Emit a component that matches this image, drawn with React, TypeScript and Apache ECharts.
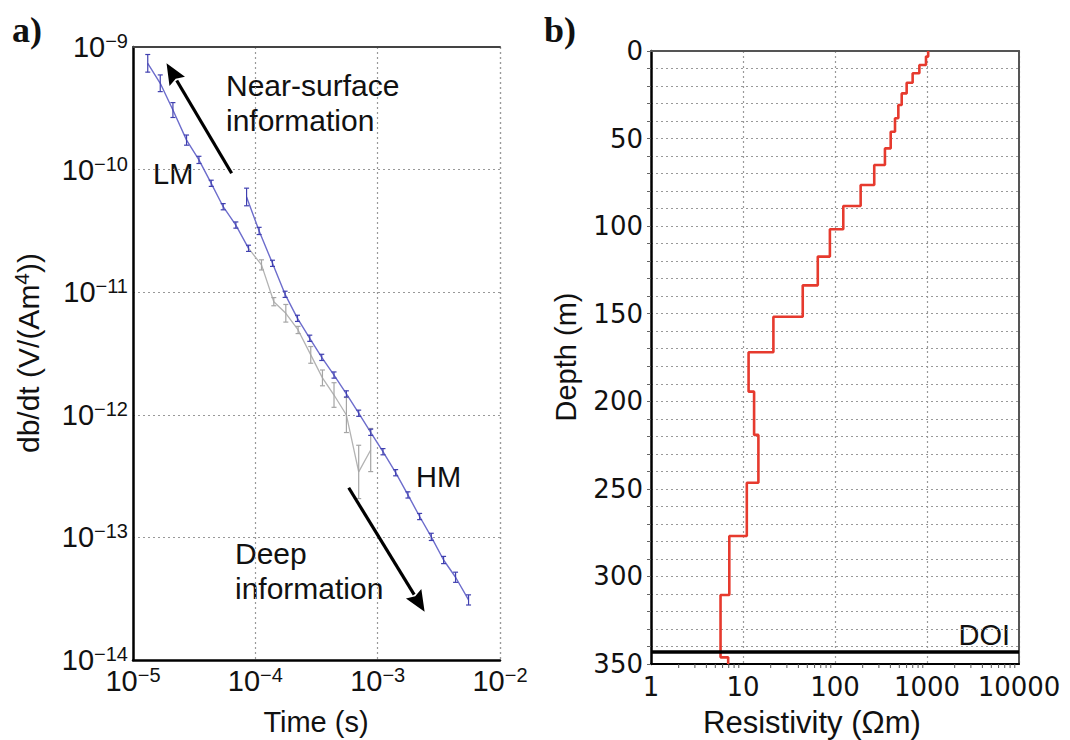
import React, { useEffect, useRef } from "react";
import * as echarts from "echarts";

// ---- Panel a) : dB/dt decay curves ----
const lmTime = [1.32e-5, 1.67e-5, 2.12e-5, 2.74e-5, 3.46e-5, 4.36e-5, 5.46e-5, 6.93e-5, 8.8e-5];
const lmValue = [7.36e-10, 5.06e-10, 3.06e-10, 1.74e-10, 1.2e-10, 7.73e-11, 4.98e-11, 3.53e-11, 2.28e-11];
const lmError = [0.18, 0.17, 0.15, 0.1, 0.07, 0.06, 0.06, 0.06, 0.06];

const hmTime = [8.48e-5, 1.074e-4, 1.381e-4, 1.751e-4, 2.211e-4, 2.786e-4, 3.491e-4, 4.397e-4, 5.553e-4, 6.998e-4, 8.77e-4, 1.105e-3, 1.403e-3, 1.768e-3, 2.203e-3, 2.744e-3, 3.458e-3, 4.333e-3, 5.533e-3];
const hmValue = [5.98e-11, 3.16e-11, 1.72e-11, 9.61e-12, 6.12e-12, 4.21e-12, 2.94e-12, 2.11e-12, 1.48e-12, 1.03e-12, 7.2e-13, 5.0e-13, 3.37e-13, 2.22e-13, 1.48e-13, 1.01e-13, 6.54e-14, 4.73e-14, 3.09e-14];
const hmError = [0.18, 0.07, 0.06, 0.06, 0.06, 0.06, 0.06, 0.06, 0.06, 0.06, 0.06, 0.06, 0.06, 0.06, 0.06, 0.07, 0.07, 0.1, 0.1];

const obsTime = [8.8e-5, 1.123e-4, 1.416e-4, 1.775e-4, 2.236e-4, 2.838e-4, 3.537e-4, 4.397e-4, 5.553e-4, 6.998e-4, 8.77e-4];
const obsValue = [2.28e-11, 1.67e-11, 8.37e-12, 6.73e-12, 4.92e-12, 3.08e-12, 2.0e-12, 1.45e-12, 9.96e-13, 3.42e-13, 5.16e-13];
const obsError = [0, 0.1, 0.08, 0.18, 0.07, 0.17, 0.16, 0.26, 0.39, 0.65, 0.5];

// arrows: [tailTime, tailValue, headTime, headValue]
const arrowNear = [6.4e-5, 9.33e-11, 1.88e-5, 7.36e-10];
const arrowDeep = [5.8e-4, 2.54e-13, 2.42e-3, 2.48e-14];

// ---- Panel b) : layered resistivity model ----
const layerTops = [0, 3.2, 8.0, 12.7, 18.1, 24.2, 30.8, 38.4, 46.1, 55.6, 65.1, 76.5, 88.5, 101.8, 117.4, 133.8, 151.7, 172.0, 194.5, 219.2, 246.5, 276.9, 310.6, 346.2];
const layerRes = [1030, 975, 826, 698, 601, 531, 488, 449, 403, 349, 267, 190, 123, 88, 65, 44.6, 21.4, 11.5, 13.2, 14.7, 11.0, 7.1, 5.7, 6.9];
const profileBottom = 350;
const doiDepth = 343;
const resDecades = [1, 10, 100, 1000];
const resMinorMult = [2, 3, 4, 5, 6, 7, 8, 9];

const FONT = "Liberation Sans";
const FONT_B = "DejaVu Sans";
const BLUE = "#6d6dcc";
const BLUE_BAR = "#4040b0";
const GRAY = "#b3b3b3";
const RED = "#e63a2e";
const dotted = { type: [2, 3] as any, color: "#999", width: 1.2 };

function supLabel(v: number) {
  const e = Math.round(Math.log10(v));
  return "10{s|" + (e < 0 ? "\u2212" : "") + Math.abs(e) + "}";
}

const supRich = {
  s: { fontSize: 20, lineHeight: 18, verticalAlign: "top", fontFamily: FONT, color: "#111" },
};

function errorBarItem(color: string) {
  return (params: any, api: any) => {
    const t = api.value(0);
    const v = api.value(1);
    const e = api.value(2);
    if (!e) return null;
    const hi = api.coord([t, v * (1 + e)]);
    const lo = api.coord([t, v / (1 + e)]);
    const w = 2.5;
    const st = { stroke: color, lineWidth: 1.2 };
    return {
      type: "group",
      children: [
        { type: "line", shape: { x1: hi[0], y1: hi[1], x2: lo[0], y2: lo[1] }, style: st },
        { type: "line", shape: { x1: hi[0] - w, y1: hi[1], x2: hi[0] + w, y2: hi[1] }, style: st },
        { type: "line", shape: { x1: lo[0] - w, y1: lo[1], x2: lo[0] + w, y2: lo[1] }, style: st },
      ],
    };
  };
}

function arrowItem(params: any, api: any) {
  const p0 = api.coord([api.value(0), api.value(1)]);
  const p1 = api.coord([api.value(2), api.value(3)]);
  const dx = p1[0] - p0[0];
  const dy = p1[1] - p0[1];
  const len = Math.sqrt(dx * dx + dy * dy);
  const ux = dx / len;
  const uy = dy / len;
  const L = 24;
  const W = 9;
  const bx = p1[0] - ux * L;
  const by = p1[1] - uy * L;
  return {
    type: "group",
    children: [
      { type: "line", shape: { x1: p0[0], y1: p0[1], x2: bx + ux * 4, y2: by + uy * 4 }, style: { stroke: "#000", lineWidth: 3.2 } },
      {
        type: "polygon",
        shape: { points: [[p1[0], p1[1]], [bx - uy * W + ux * 3, by + ux * W + uy * 3], [bx + ux * 6, by + uy * 6], [bx + uy * W + ux * 3, by - ux * W + uy * 3]] },
        style: { fill: "#000" },
      },
    ],
  };
}

function minorTickItem(params: any, api: any) {
  const p = api.coord([api.value(0), profileBottom]);
  return { type: "line", shape: { x1: p[0], y1: p[1], x2: p[0], y2: p[1] + 4 }, style: { stroke: "#555", lineWidth: 1 } };
}

export default function App() {
  const ref = useRef<HTMLDivElement>(null);
  useEffect(() => {
    if (!ref.current) return;
    const chart = echarts.init(ref.current, null, { renderer: "svg" });

    const profile: number[][] = [];
    layerRes.forEach((r, i) => {
      const top = layerTops[i];
      const bottom = i + 1 < layerTops.length ? layerTops[i + 1] : profileBottom;
      profile.push([r, top], [r, bottom]);
    });
    const minorTicks: number[][] = [];
    resDecades.forEach((d) => resMinorMult.forEach((m) => minorTicks.push([d * m])));

    const labelA = { fontFamily: FONT, fontSize: 29, color: "#111" };
    const labelB = { fontFamily: FONT_B, fontSize: 26, color: "#111" };

    const option: any = {
      animation: false,
      backgroundColor: "#fff",
      textStyle: { fontFamily: FONT },
      grid: [
        { left: 133, top: 47, width: 367, height: 613 },
        { left: 651, top: 51, width: 368, height: 613 },
      ],
      xAxis: [
        {
          gridIndex: 0, type: "log", logBase: 10, min: 1e-5, max: 1e-2, position: "bottom",
          axisLine: { onZero: false, lineStyle: { color: "#000", width: 2.5 } },
          axisTick: { show: false },
          splitLine: { show: true, lineStyle: dotted },
          axisLabel: { ...labelA, lineHeight: 32, margin: 5, formatter: supLabel, rich: supRich },
        },
        {
          gridIndex: 0, type: "log", logBase: 10, min: 1e-5, max: 1e-2, position: "top",
          axisLine: { onZero: false, lineStyle: { color: "#444", width: 2 } },
          axisTick: { show: false }, axisLabel: { show: false }, splitLine: { show: false },
        },
        {
          gridIndex: 1, type: "log", logBase: 10, min: 1, max: 10000, position: "bottom",
          axisLine: { onZero: false, lineStyle: { color: "#000", width: 2 } },
          axisTick: { show: false },
          splitLine: { show: true, lineStyle: dotted },
          axisLabel: { ...labelB, margin: 10, formatter: (v: number) => String(Math.round(v)) },
        },
        {
          gridIndex: 1, type: "log", logBase: 10, min: 1, max: 10000, position: "top",
          axisLine: { onZero: false, lineStyle: { color: "#555", width: 2 } },
          axisTick: { show: false }, axisLabel: { show: false }, splitLine: { show: false },
        },
      ],
      yAxis: [
        {
          gridIndex: 0, type: "log", logBase: 10, min: 1e-14, max: 1e-9, position: "left",
          axisLine: { onZero: false, lineStyle: { color: "#000", width: 2.5 } },
          axisTick: { show: false },
          splitLine: { show: true, lineStyle: dotted },
          axisLabel: { ...labelA, lineHeight: 32, margin: 5, formatter: supLabel, rich: supRich },
        },
        {
          gridIndex: 1, type: "value", min: 0, max: 350, interval: 50, inverse: true, position: "left",
          axisLine: { onZero: false, lineStyle: { color: "#000", width: 2.5 } },
          axisTick: { show: true, length: 4, lineStyle: { color: "#666" } },
          minorTick: { show: true, splitNumber: 5, length: 4, lineStyle: { color: "#666" } },
          splitLine: { show: true, lineStyle: dotted },
          minorSplitLine: { show: true, lineStyle: dotted },
          axisLabel: { ...labelB, margin: 8 },
        },
        {
          gridIndex: 1, type: "value", min: 0, max: 350, inverse: true, position: "right",
          axisLine: { onZero: false, lineStyle: { color: "#555", width: 2 } },
          axisTick: { show: false }, axisLabel: { show: false }, splitLine: { show: false },
        },
      ],
      series: [
        {
          name: "observed", type: "line", xAxisIndex: 0, yAxisIndex: 0, showSymbol: false, silent: true,
          lineStyle: { color: GRAY, width: 1.3 }, data: obsTime.map((t, i) => [t, obsValue[i]]), z: 2,
        },
        {
          name: "LM", type: "line", xAxisIndex: 0, yAxisIndex: 0, showSymbol: false, silent: true,
          lineStyle: { color: BLUE, width: 1.4 }, data: lmTime.map((t, i) => [t, lmValue[i]]), z: 3,
        },
        {
          name: "HM", type: "line", xAxisIndex: 0, yAxisIndex: 0, showSymbol: false, silent: true,
          lineStyle: { color: BLUE, width: 1.4 }, data: hmTime.map((t, i) => [t, hmValue[i]]), z: 3,
        },
        {
          type: "custom", xAxisIndex: 0, yAxisIndex: 0, silent: true, z: 4,
          renderItem: errorBarItem("#a5a5a5"), encode: { x: 0, y: 1 },
          data: obsTime.map((t, i) => [t, obsValue[i], obsError[i]]),
        },
        {
          type: "custom", xAxisIndex: 0, yAxisIndex: 0, silent: true, z: 5,
          renderItem: errorBarItem(BLUE_BAR), encode: { x: 0, y: 1 },
          data: lmTime.map((t, i) => [t, lmValue[i], lmError[i]]).concat(hmTime.map((t, i) => [t, hmValue[i], hmError[i]])),
        },
        {
          type: "custom", xAxisIndex: 0, yAxisIndex: 0, silent: true, z: 6,
          renderItem: arrowItem, encode: { x: [0, 2], y: [1, 3] },
          data: [arrowNear, arrowDeep],
        },
        {
          name: "resistivity", type: "line", xAxisIndex: 2, yAxisIndex: 1, showSymbol: false, silent: true,
          lineStyle: { color: RED, width: 2.6 }, data: profile, z: 4,
          markLine: {
            silent: true, symbol: ["none", "none"],
            lineStyle: { color: "#000", width: 3.5, type: "solid" },
            label: { show: false },
            data: [{ yAxis: doiDepth }],
          },
        },
        {
          type: "custom", xAxisIndex: 2, yAxisIndex: 1, silent: true, z: 3,
          renderItem: minorTickItem, encode: { x: 0 }, data: minorTicks,
        },
      ],
      graphic: [
        { type: "text", x: 12, y: 30, style: { text: "a)", font: "bold 36px 'Liberation Serif'", fill: "#111", textVerticalAlign: "middle" } },
        { type: "text", x: 544, y: 30, style: { text: "b)", font: "bold 36px 'Liberation Serif'", fill: "#111", textVerticalAlign: "middle" } },
        { type: "text", x: 226, y: 102.5, style: { text: "Near-surface\ninformation", fontFamily: FONT, fontSize: 30, lineHeight: 35, fill: "#111", textVerticalAlign: "middle" } },
        { type: "text", x: 153, y: 174, style: { text: "LM", fontFamily: FONT, fontSize: 29, fill: "#111", textVerticalAlign: "middle" } },
        { type: "text", x: 416, y: 477, style: { text: "HM", fontFamily: FONT, fontSize: 29, fill: "#111", textVerticalAlign: "middle" } },
        { type: "text", x: 235, y: 571, style: { text: "Deep\ninformation", fontFamily: FONT, fontSize: 30, lineHeight: 35, fill: "#111", textVerticalAlign: "middle" } },
        { type: "text", x: 1010, y: 635, style: { text: "DOI", fontFamily: FONT, fontSize: 29, fill: "#111", textAlign: "right", textVerticalAlign: "middle" } },
        { type: "text", x: 316, y: 722, style: { text: "Time (s)", fontFamily: FONT, fontSize: 29, fill: "#111", textAlign: "center", textVerticalAlign: "middle" } },
        { type: "text", x: 812, y: 722, style: { text: "Resistivity (\u03A9m)", fontFamily: FONT, fontSize: 31, fill: "#111", textAlign: "center", textVerticalAlign: "middle" } },
        {
          type: "text", x: 28, y: 353, rotation: Math.PI / 2,
          style: {
            text: "db/dt (V/(Am{s|4}))", fontFamily: FONT, fontSize: 30, lineHeight: 34, fill: "#111",
            textAlign: "center", textVerticalAlign: "middle",
            rich: { s: { fontSize: 21, lineHeight: 20, verticalAlign: "top", fontFamily: FONT, fill: "#111" } },
          },
        },
        { type: "text", x: 566, y: 357, rotation: Math.PI / 2, style: { text: "Depth (m)", fontFamily: FONT, fontSize: 29, fill: "#111", textAlign: "center", textVerticalAlign: "middle" } },
      ],
    };
    chart.setOption(option);
    return () => chart.dispose();
  }, []);
  return <div ref={ref} style={{ position: "fixed", left: 0, top: 0, width: 1070, height: 740, background: "#fff" }} />;
}
